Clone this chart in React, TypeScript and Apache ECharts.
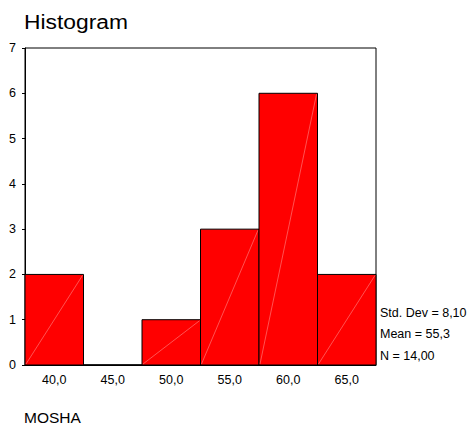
import React, { useEffect, useRef } from "react";
import * as echarts from "echarts";

const categories = ["40,0", "45,0", "50,0", "55,0", "60,0", "65,0"];
const counts = [2, 0, 1, 3, 6, 2];
const statLines = ["Std. Dev = 8,10", "Mean = 55,3", "N = 14,00"];
const titleText = "Histogram";
const axisName = "MOSHA";

export default function App() {
  const ref = useRef<HTMLDivElement>(null);
  useEffect(() => {
    const chart = echarts.init(ref.current!, null, { renderer: "svg" });
    const font = "'Liberation Sans', Arial, sans-serif";
    const statY = [312.5, 334, 355.7];
    chart.setOption({
      animation: false,
      grid: {
        left: 25,
        right: 94,
        top: 48,
        bottom: 65,
        show: true,
        borderColor: "#000",
        borderWidth: 1,
        backgroundColor: "transparent",
      },
      xAxis: {
        type: "category",
        data: categories,
        boundaryGap: true,
        axisLine: { lineStyle: { color: "#000", width: 1 } },
        axisTick: { alignWithLabel: true, length: 3, lineStyle: { color: "#000" } },
        axisLabel: { fontFamily: font, fontSize: 12.5, color: "#000", margin: 8 },
      },
      yAxis: {
        type: "value",
        min: 0,
        max: 7,
        interval: 1,
        splitLine: { show: false },
        axisLine: { show: true, lineStyle: { color: "#000", width: 1 } },
        axisTick: { show: true, length: 3, lineStyle: { color: "#000" } },
        axisLabel: { fontFamily: font, fontSize: 12.5, color: "#000", margin: 9 },
      },
      series: [
        {
          type: "custom",
          data: counts.map((v, i) => [i, v]),
          encode: { x: 0, y: 1 },
          renderItem: (params: any, api: any) => {
            const idx = api.value(0);
            const val = api.value(1);
            const w = api.size([1, 0])[0];
            const top = api.coord([idx, val]);
            const base = api.coord([idx, 0]);
            const x0 = top[0] - w / 2;
            const h = base[1] - top[1];
            return {
              type: "group",
              children: [
                {
                  type: "rect",
                  shape: { x: x0, y: top[1], width: w, height: h },
                  style: { fill: "#ff0000", stroke: "#000", lineWidth: 1 },
                },
                {
                  type: "line",
                  shape: { x1: x0 + 1, y1: base[1] - 1, x2: x0 + w - 1, y2: top[1] + 1 },
                  style: { stroke: "#ff8a8a", lineWidth: 0.6 },
                  invisible: h < 2,
                },
              ],
            };
          },
        },
      ],
      graphic: [
        {
          type: "text",
          x: 24,
          y: 22,
          scaleX: 1.17,
          style: {
            text: titleText,
            font: `19.5px ${font}`,
            fill: "#000",
            verticalAlign: "middle",
            align: "left",
          },
        },
        ...statLines.map((t, i) => ({
          type: "text",
          x: 380,
          y: statY[i],
          style: { text: t, font: `12.5px ${font}`, fill: "#000", verticalAlign: "middle", align: "left" },
        })),
        {
          type: "text",
          x: 24,
          y: 417.5,
          style: { text: axisName, font: `15.5px ${font}`, fill: "#000", verticalAlign: "middle", align: "left" },
        },
      ],
    });
    return () => chart.dispose();
  }, []);
  return (
    <div
      ref={ref}
      style={{ position: "absolute", left: 0, top: 0, width: 470, height: 430 }}
    />
  );
}
